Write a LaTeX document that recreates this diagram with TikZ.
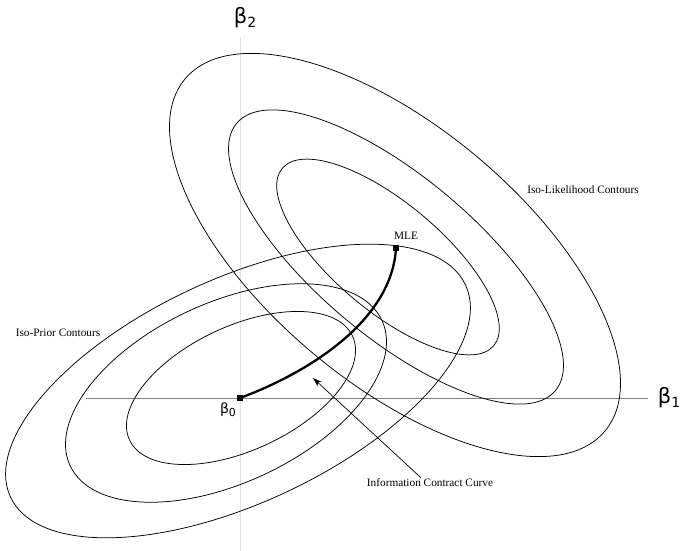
\documentclass[tikz,border=0pt]{standalone}
\usepackage{fontspec}
\setmainfont{Liberation Serif}
\newfontfamily\betafont{DejaVu Sans}
\usetikzlibrary{arrows.meta}
\tikzstyle{contour} = [line width=0.75pt, draw=black]
\tikzstyle{axis} = [line width=0.8pt, draw=black!50]
\tikzstyle{vaxis} = [line width=0.8pt, draw=black!12]
\tikzstyle{dot} = [rectangle, fill=black, minimum size=5.5pt, inner sep=0pt]
\tikzstyle{lbl} = [font=\fontsize{11.3}{12}\selectfont, inner sep=1pt]
\tikzstyle{path} = [line width=2.3pt, draw=black]
\tikzstyle{arrow} = [->,>={Stealth[length=9pt, width=6pt, inset=2.5pt]}, line width=0.7pt]
\newcommand{\bvar}[3]{{\betafont\fontsize{#2}{#2}\selectfont β\raisebox{-0.3ex}{\fontsize{#3}{#3}\selectfont #1}}}

\begin{document}
\begin{tikzpicture}[x=1pt, y=-1pt]
		\useasboundingbox (0,0) rectangle (683,551);
		% axes
		\draw [vaxis] (240,37) -- (240,551);
		\draw [axis] (86,398) -- (648,398);
		\node (beta1) at (669,398) {\bvar{1}{21}{14}};
		\node (beta2) at (245,18) {\bvar{2}{21}{14}};
		
		% iso-likelihood contours
		\draw [contour, rotate around={-40:(395,255)}] (395,255) ellipse [x radius=274, y radius=128];
		\draw [contour, rotate around={-40:(396,257)}] (396,257) ellipse [x radius=208, y radius=80];
		\draw [contour, rotate around={-40:(388,257)}] (388,257) ellipse [x radius=138, y radius=54];
		
		% iso-prior contours
		\draw [contour, rotate around={25:(241,388)}] (241,388) ellipse [x radius=123, y radius=62];
		\draw [contour, rotate around={25:(226,393)}] (226,393) ellipse [x radius=172, y radius=90];
		\draw [contour, rotate around={25:(238,391)}] (238,391) ellipse [x radius=251, y radius=112];
		
		% points and contract curve
		\node (b0) [dot] at (240,398) {};
		\node (mle) [dot] at (396,248) {};
		\node (b0lbl) at (228,410) {\bvar{0}{14}{11}};
		\node (mlelbl) [lbl, anchor=south west] at (393,241) {MLE};
		\draw [path] (b0.center) .. controls (310,372) and (392,320) .. (mle.center);
		
		% labels
		\node (like) [lbl] at (583,190) {Iso-Likelihood Contours};
		\node (prior) [lbl] at (58,333) {Iso-Prior Contours};
		\node (icc) [lbl] at (430,483) {Information Contract Curve};
		\coordinate (tip) at (313,378);
		\draw [arrow] ([xshift=-9pt]icc.north) -- (tip);
	\end{tikzpicture}
\end{document}
